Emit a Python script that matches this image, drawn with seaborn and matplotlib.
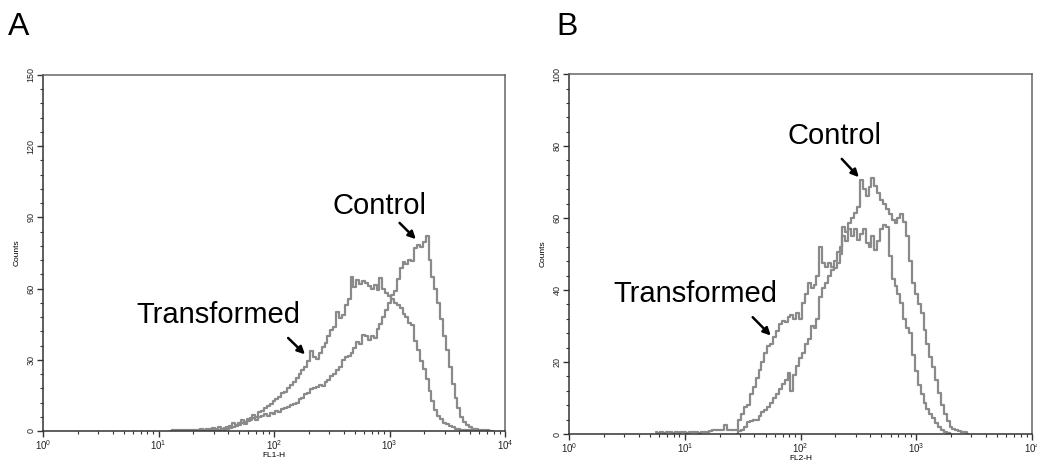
import numpy as np
import pandas as pd
import matplotlib
matplotlib.use("Agg")
from matplotlib import pyplot as plt
from matplotlib.ticker import MultipleLocator, LogLocator, NullFormatter
import seaborn as sns

# channel grid step (log10 units) used when reading the histograms off the picture
step = 0.025

# panel A (FL1-H), counts per channel, first channel at log10 = start
a_trans_start = 1.100
a_trans = [0, 0.3, 0.3, 0.5, 0.3, 0.4, 0.5, 0.3, 0.6, 0.5, 0.4, 0.7, 0.6, 1.0, 0.8, 1.2,
           1.0, 1.5, 1.0, 1.4, 1.8, 2.2, 3.5, 2.6, 3.4, 4.5, 3.8, 5.2, 5.5, 6.8, 6.0, 7.8,
           8.5, 9.6, 10.5, 11.2, 12.8, 13.5, 14.2, 16.0, 16.5, 18.0, 19.5, 20.8, 22.5, 24.0,
           25.8, 27.0, 29.5, 33.5, 31.0, 30.2, 33.0, 35.5, 37.0, 40.0, 42.5, 44.0, 50.0, 47.5,
           49.0, 53.0, 55.5, 65.0, 60.5, 63.5, 62.0, 63.0, 62.5, 61.0, 60.0, 61.5, 59.5, 64.5,
           60.0, 58.0, 57.0, 55.5, 54.0, 53.0, 52.0, 49.5, 48.0, 45.5, 44.5, 38.0, 34.0, 29.5,
           26.0, 22.0, 17.0, 12.5, 9.0, 6.5, 5.0, 3.5, 3.0, 2.2, 1.5, 1.0, 0.8, 0.4, 0.3, 0.3,
           0.5, 0.2, 0.3, 0.2, 0.1, 0.0]
a_ctrl_start = 1.300
a_ctrl = [0, 0.2, 0.3, 0.3, 0.4, 0.3, 0.5, 0.4, 0.6, 0.5, 0.8, 0.6, 1.0, 1.3, 1.6, 2.0,
          2.5, 3.2, 3.0, 4.2, 4.5, 5.5, 4.8, 6.0, 6.2, 7.0, 6.5, 7.5, 7.2, 8.5, 8.0, 9.2,
          9.5, 10.2, 10.8, 11.5, 12.0, 13.5, 14.0, 15.5, 16.0, 17.5, 18.0, 18.5, 19.5, 19.0,
          20.5, 21.5, 23.0, 24.0, 25.5, 27.0, 30.0, 31.0, 31.5, 33.0, 35.0, 37.5, 36.5, 40.5,
          40.0, 38.5, 40.0, 39.0, 43.0, 45.0, 48.0, 51.0, 54.0, 57.5, 59.0, 64.0, 68.5, 71.0,
          70.5, 72.0, 71.5, 77.0, 78.5, 77.5, 79.5, 82.0, 72.0, 65.0, 60.0, 54.0, 47.0, 40.0,
          34.0, 27.0, 20.0, 14.0, 9.5, 6.0, 4.0, 2.5, 1.8, 1.0, 0.8, 0.6, 0.5, 0.3, 0.4, 0.2, 0.0]

# panel B (FL2-H)
b_trans_start = 0.750
b_trans = [0.6, 0.3, 0.6, 0.2, 0.5, 0.6, 0.2, 0.6, 0.3, 0.6, 0.5, 0.2, 0.6, 0.5, 0.6, 0.4,
           0.6, 0.5, 0.6, 0.7, 1.0, 1.1, 1.2, 1.1, 2.5, 1.2, 1.1, 1.1, 1.2, 4.0, 5.5, 7.5,
           8.0, 11.0, 13.0, 15.5, 17.8, 20.0, 22.5, 24.5, 25.0, 27.0, 28.5, 30.5, 31.5, 31.0,
           32.5, 33.0, 32.0, 33.5, 32.0, 36.5, 39.0, 42.0, 40.5, 41.5, 44.0, 52.0, 47.5, 46.5,
           47.5, 46.5, 48.0, 50.5, 52.0, 55.0, 53.5, 57.0, 55.0, 57.0, 54.0, 55.5, 57.0, 53.0,
           52.0, 55.0, 51.0, 53.5, 57.0, 58.0, 57.5, 49.5, 43.0, 41.0, 39.0, 36.5, 32.0, 29.5,
           28.0, 22.0, 17.5, 13.5, 11.0, 8.5, 7.0, 5.5, 4.5, 3.0, 2.0, 1.2, 0.6, 0.3, 0.0]
b_ctrl_start = 1.450
b_ctrl = [0, 0.8, 1.2, 2.0, 3.2, 3.5, 3.8, 4.0, 5.0, 6.2, 6.8, 7.5, 8.5, 10.0, 11.0, 12.5,
          14.0, 15.0, 17.0, 12.0, 16.5, 19.0, 21.0, 22.5, 25.0, 26.5, 30.0, 29.5, 32.0, 38.0,
          40.5, 42.0, 44.0, 45.5, 46.0, 47.5, 50.0, 57.5, 56.0, 58.5, 60.0, 61.5, 63.0, 70.5,
          68.0, 66.0, 68.5, 71.0, 69.0, 67.0, 65.0, 64.0, 62.5, 61.0, 59.5, 58.5, 60.0, 61.0,
          59.0, 55.0, 48.0, 42.0, 39.0, 36.0, 33.5, 29.0, 25.0, 21.5, 18.5, 15.0, 11.5, 8.0,
          5.5, 3.5, 2.0, 1.5, 1.0, 0.8, 0.6, 0.5, 0.0]

panels = ["A", "B"]
x_labels = ["FL1-H", "FL2-H"]
y_max = [150, 100]
y_major = [30, 20]
y_minor = [6, 4]
x_ticklabels = ["$10^{0}$", "$10^{1}$", "$10^{2}$", "$10^{3}$", "$10^{4}$"]


def to_frame(vals, start, panel, sample):
    pos = start + step * np.arange(len(vals))
    return pd.DataFrame({"x": 10 ** pos, "counts": vals, "panel": panel, "sample": sample})


df = pd.concat([
    to_frame(a_trans, a_trans_start, "A", "Transformed"),
    to_frame(a_ctrl, a_ctrl_start, "A", "Control"),
    to_frame(b_trans, b_trans_start, "B", "Transformed"),
    to_frame(b_ctrl, b_ctrl_start, "B", "Control"),
])

sns.set_style("white")
plt.rcParams["font.family"] = ["Liberation Sans", "DejaVu Sans"]
plt.rcParams["mathtext.default"] = "regular"
plt.rcParams["text.color"] = "black"
plt.rcParams["axes.labelcolor"] = "black"
plt.rcParams["xtick.color"] = "#222222"
plt.rcParams["ytick.color"] = "#222222"

fig = plt.figure(figsize=(10.37, 4.62), dpi=100)
ax_a = fig.add_axes([0.0415, 0.0671, 0.4455, 0.7706])
ax_b = fig.add_axes([0.5487, 0.0606, 0.4465, 0.779])
axes = [ax_a, ax_b]

for i, ax in enumerate(axes):
    sub = df[df["panel"] == panels[i]]
    sns.lineplot(data=sub, x="x", y="counts", units="sample", estimator=None,
                 color="#8a8a8a", linewidth=1.6, drawstyle="steps-mid", ax=ax)
    ax.set_xscale("log")
    ax.set_xlim(1, 1e4)
    ax.set_ylim(0, y_max[i])
    ax.set_xticks([1, 10, 100, 1000, 10000])
    ax.set_xticklabels(x_ticklabels, fontsize=7)
    ax.xaxis.set_minor_locator(LogLocator(base=10, subs=np.arange(2, 10)))
    ax.xaxis.set_minor_formatter(NullFormatter())
    ax.yaxis.set_major_locator(MultipleLocator(y_major[i]))
    ax.yaxis.set_minor_locator(MultipleLocator(y_minor[i]))
    for lab in ax.get_yticklabels():
        lab.set_rotation(90)
        lab.set_va("center")
        lab.set_fontsize(6.5)
    ax.tick_params(which="major", direction="out", length=4, width=1, color="#333333",
                   pad=1.5, bottom=True, left=True)
    ax.tick_params(which="minor", direction="out", length=2.5, width=0.8, color="#333333",
                   bottom=True, left=True)
    for s in ax.spines.values():
        s.set_color("#333333")
        s.set_linewidth(1.1)
    ax.spines["top"].set_color("#666666")
    ax.spines["right"].set_color("#666666")
    ax.set_xlabel(x_labels[i], fontsize=6, labelpad=0)
    ax.set_ylabel("Counts", fontsize=6, labelpad=4)

# annotations
arrow = dict(arrowstyle="-|>", color="black", lw=1.8, mutation_scale=11)
ax_a.text(10 ** 2.91, 94.8, "Control", fontsize=21, ha="center", va="center")
ax_a.annotate("", xy=(10 ** 3.245, 80), xytext=(10 ** 3.07, 88.5), arrowprops=arrow)
ax_a.text(10 ** 1.515, 48.9, "Transformed", fontsize=21, ha="center", va="center")
ax_a.annotate("", xy=(10 ** 2.285, 31.5), xytext=(10 ** 2.105, 40), arrowprops=arrow)

ax_b.text(10 ** 2.294, 82.8, "Control", fontsize=21, ha="center", va="center")
ax_b.annotate("", xy=(10 ** 2.52, 70.8), xytext=(10 ** 2.34, 77), arrowprops=arrow)
ax_b.text(10 ** 1.089, 38.9, "Transformed", fontsize=21, ha="center", va="center")
ax_b.annotate("", xy=(10 ** 1.76, 26.8), xytext=(10 ** 1.57, 33), arrowprops=arrow)

fig.text(0.008, 0.925, "A", fontsize=23, ha="left", va="baseline")
fig.text(0.537, 0.925, "B", fontsize=23, ha="left", va="baseline")

fig.savefig("out.png", dpi=100)
